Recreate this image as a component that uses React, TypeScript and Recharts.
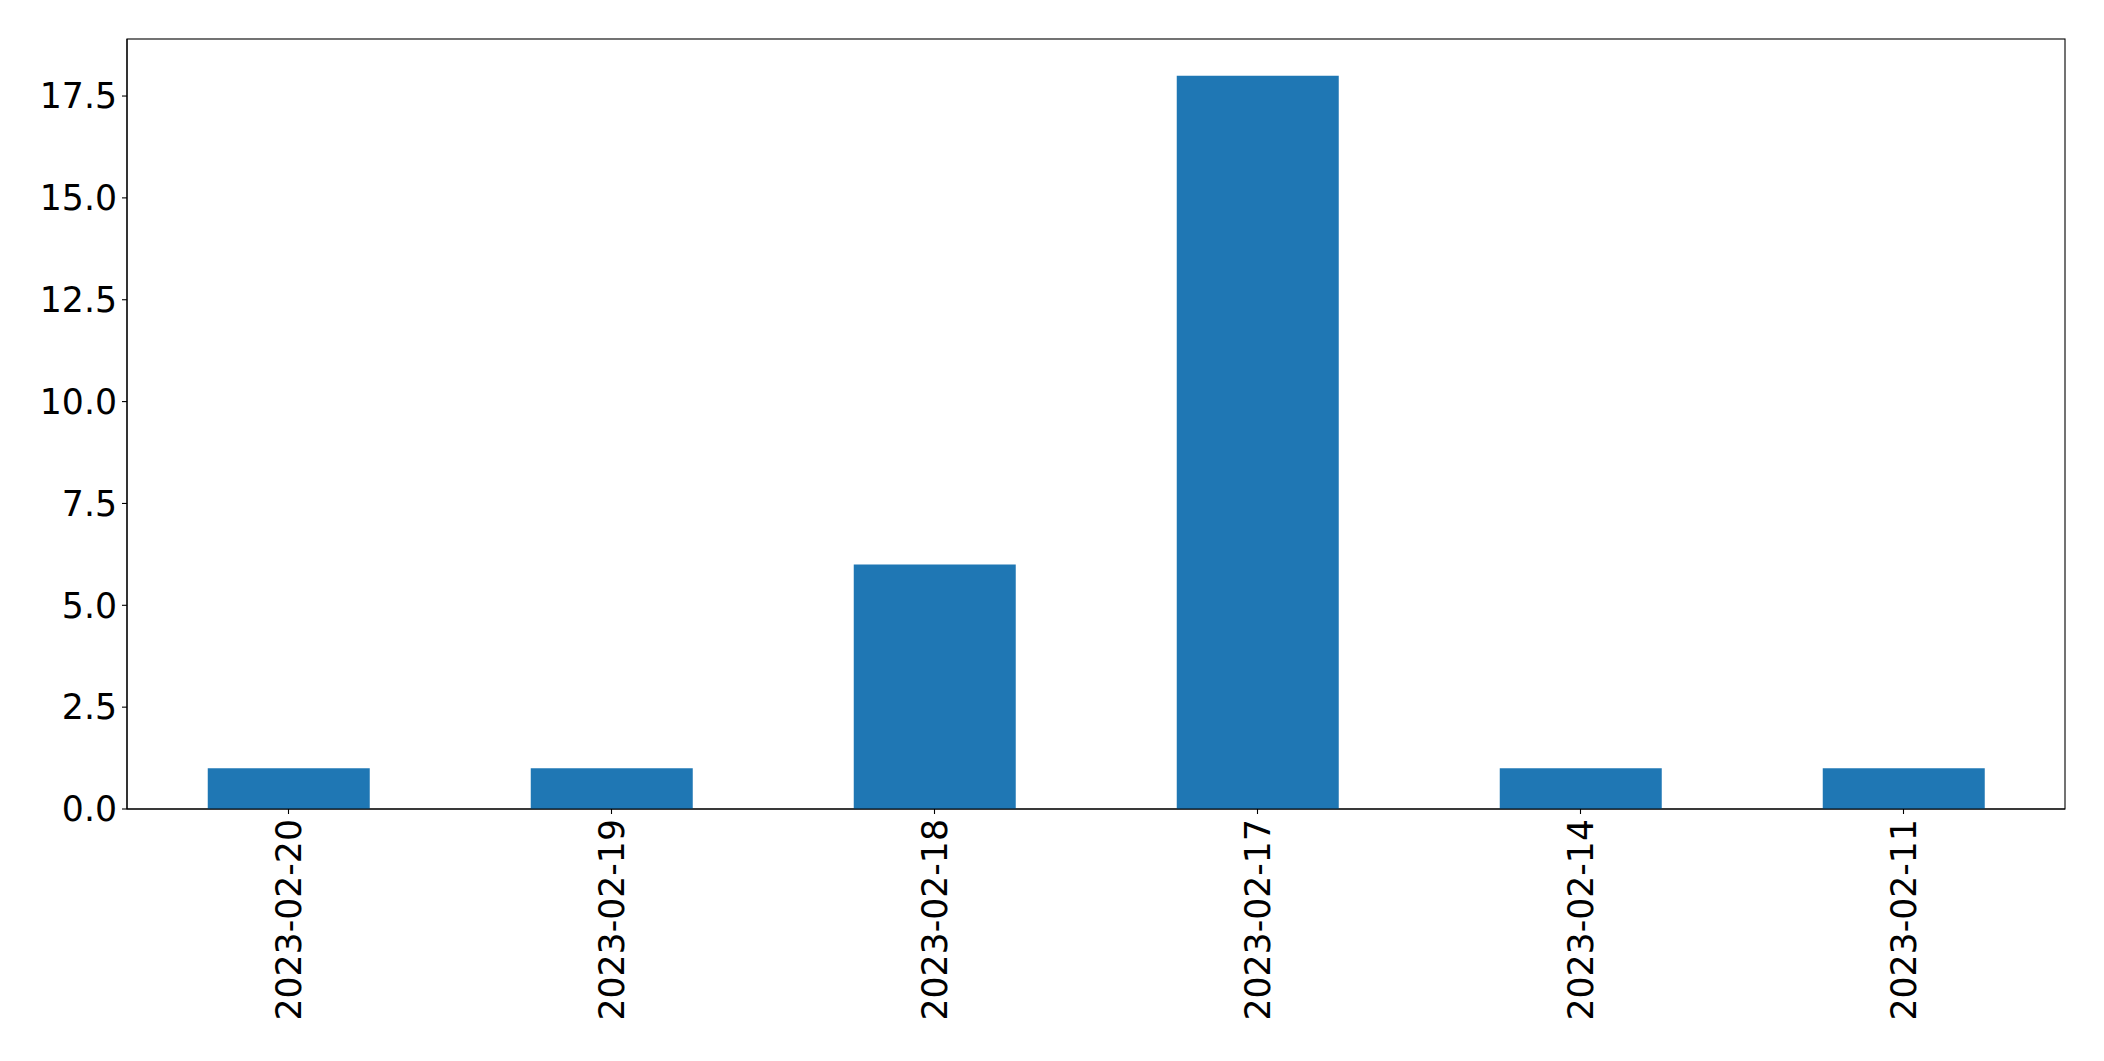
import React from "react";
import { BarChart, Bar, XAxis, YAxis, usePlotArea } from "recharts";

const categories = ["2023-02-20", "2023-02-19", "2023-02-18", "2023-02-17", "2023-02-14", "2023-02-11"];
const counts = [1, 1, 6, 18, 1, 1];
const yTicks = [0, 2.5, 5, 7.5, 10, 12.5, 15, 17.5];

const data = categories.map((c, i) => ({ date: c, count: counts[i] }));

const FONT = "DejaVu Sans, sans-serif";
const FS = 34.7;

const XTick = (props: any) => {
  const { x, y, payload } = props;
  return (
    <text
      transform={`translate(${x},${y}) rotate(-90)`}
      textAnchor="end"
      dy="0.36em"
      fontFamily={FONT}
      fontSize={FS}
      fill="#000"
    >
      {payload.value}
    </text>
  );
};

const Frame = () => {
  const area = usePlotArea();
  if (!area) return null;
  return (
    <rect
      x={area.x}
      y={area.y}
      width={area.width}
      height={area.height}
      fill="none"
      stroke="#000"
      strokeWidth={1.1}
    />
  );
};

export default function App() {
  return (
    <div style={{ position: "absolute", left: 0, top: 0, width: 2104, height: 1061, background: "#fff" }}>
      <BarChart
        width={2104}
        height={1061}
        data={data}
        margin={{ top: 39, right: 39, bottom: 0, left: 0 }}
        barCategoryGap="25%"
      >
        <XAxis
          dataKey="date"
          height={252}
          tickSize={5}
          tickMargin={5}
          axisLine={{ stroke: "#000", strokeWidth: 1.1 }}
          tickLine={{ stroke: "#000", strokeWidth: 1.1 }}
          tick={<XTick />}
          interval={0}
        />
        <YAxis
          width={127}
          domain={[0, 18.9]}
          ticks={yTicks}
          tickFormatter={(v: number) => v.toFixed(1)}
          tickSize={5}
          tickMargin={5}
          axisLine={{ stroke: "#000", strokeWidth: 1.1 }}
          tickLine={{ stroke: "#000", strokeWidth: 1.1 }}
          tick={{ fontFamily: FONT, fontSize: FS, fill: "#000" }}
          allowDataOverflow
        />
        <Bar dataKey="count" fill="#1f77b4" isAnimationActive={false} />
        <Frame />
      </BarChart>
    </div>
  );
}
